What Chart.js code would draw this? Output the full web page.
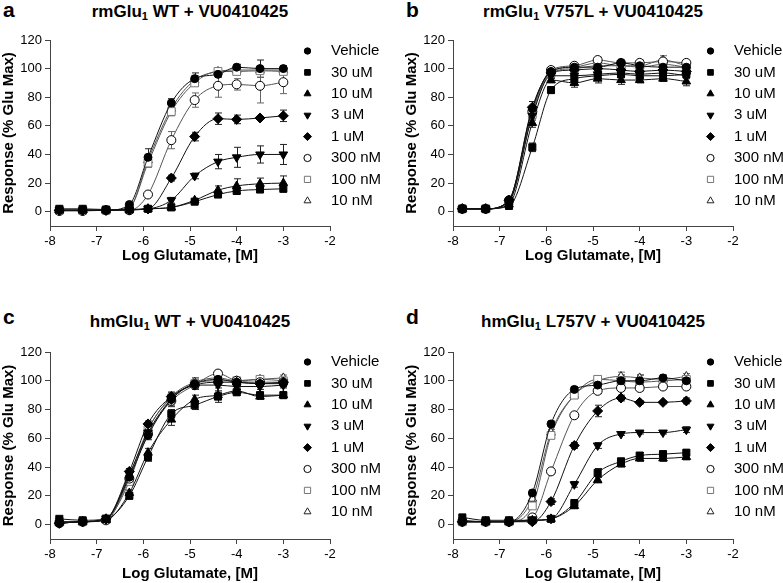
<!DOCTYPE html>
<html>
<head>
<meta charset="utf-8">
<script src="https://cdn.jsdelivr.net/npm/chart.js@4.4.0/dist/chart.umd.min.js"></script>
<style>
body { margin: 0; background: #fff; width: 783px; height: 583px; position: relative; overflow: hidden;
       font-family: "Liberation Sans", Arial, sans-serif; color: #000; }
.painel { position: absolute; width: 380px; height: 272px; }
.painel canvas { position: absolute; left: 0; top: 0; }
.letra { position: absolute; left: 3px; font-weight: bold; font-size: 21px; line-height: 21px; }
.titulo { position: absolute; left: 50px; width: 280px; text-align: center; font-weight: bold;
          font-size: 17px; line-height: 17px; white-space: nowrap; }
.titulo sub { font-size: 11px; vertical-align: -3px; line-height: 0; }
</style>
</head>
<body>

<div class="painel" style="left:0;top:0">
  <div class="letra" style="top:-1px">a</div>
  <div class="titulo" style="top:3px">rmGlu<sub>1</sub> WT + VU0410425</div>
  <canvas id="graficoA" width="380" height="272"></canvas>
</div>
<div class="painel" style="left:403px;top:0">
  <div class="letra" style="top:-1px">b</div>
  <div class="titulo" style="top:3px">rmGlu<sub>1</sub> V757L + VU0410425</div>
  <canvas id="graficoB" width="380" height="272"></canvas>
</div>
<div class="painel" style="left:0;top:311px">
  <div class="letra" style="top:-5px">c</div>
  <div class="titulo" style="top:2px">hmGlu<sub>1</sub> WT + VU0410425</div>
  <canvas id="graficoC" width="380" height="272"></canvas>
</div>
<div class="painel" style="left:403px;top:311px">
  <div class="letra" style="top:-5px">d</div>
  <div class="titulo" style="top:2px">hmGlu<sub>1</sub> L757V + VU0410425</div>
  <canvas id="graficoD" width="380" height="272"></canvas>
</div>

<script>
// --- DADOS ---
const logGlu = [-7.8, -7.3, -6.8, -6.3, -5.9, -5.4, -4.9, -4.4, -4.0, -3.5, -3.0];
const seriesLabels = ['Vehicle', '30 uM', '10 uM', '3 uM', '1 uM', '300 nM', '100 nM', '10 nM'];
const yTickValues = [0, 20, 40, 60, 80, 100, 120];
const xMin = -8, xMax = -2, yMin = -10, yMax = 120;
const xTitle = 'Log Glutamate, [M]';
const yTitle = 'Response (% Glu Max)';

// painel a: rmGlu1 WT
const aVehicle = [1, 1, 1, 5, 38, 76, 93, 96, 101, 100, 100];
const a30uM    = [2, 2, 1.5, 1.5, 2, 3, 7, 12, 14.5, 15.5, 16];
const a10uM    = [1, 1, 1, 1, 2, 3, 8, 15, 18, 19.5, 20];
const a3uM     = [1, 1, 1, 1.5, 2, 8, 25, 35, 38, 40, 40];
const a1uM     = [1, 1, 1, 1.5, 2, 23.5, 52.5, 65, 64.5, 65.5, 67];
const a300nM   = [0.5, 0.5, 1, 1, 12, 50, 78, 88, 89, 88, 90.5];
const a100nM   = [1, 1, 1, 3, 34, 70, 90, 98, 98, 98.5, 98];
const a10nM    = [1, 1, 1, 3, 36, 72, 92, 98, 99, 99, 99];
const aVehicleErr = [0, 0, 0, 0, 6, 3, 4, 2, 2, 6, 2];
const a30uMErr    = [0, 0, 0, 0, 0, 0, 1, 2, 2, 2, 2];
const a10uMErr    = [0, 0, 0, 0, 0, 0, 1, 3, 5, 4, 5];
const a3uMErr     = [0, 0, 0, 0, 0, 2, 2, 5, 7, 6, 7];
const a1uMErr     = [0, 0, 0, 0, 0, 2, 3, 4, 3, 1, 4];
const a300nMErr   = [0, 0, 0, 0, 1, 6, 5, 8, 4, 12, 8];
const a100nMErr   = [0, 0, 0, 0, 3, 3, 2, 1, 2, 2, 2];
const a10nMErr    = [0, 0, 0, 0, 2, 2, 3, 1, 1, 1, 1];

// painel b: rmGlu1 V757L
const bVehicle = [2, 2, 8, 72, 98, 101, 101, 104, 102, 101, 101];
const b30uM    = [2, 2, 4, 45, 85, 93, 95, 96, 95, 95, 96];
const b10uM    = [2, 2, 5, 62, 92, 90, 93, 92, 92, 93, 91];
const b3uM     = [2, 2, 7, 67, 95, 95, 96, 97, 96, 97, 95];
const b1uM     = [2, 2, 8, 73, 97, 99, 100, 99, 98, 99, 98];
const b300nM   = [2, 2, 8, 70, 99, 102, 106, 104, 104, 105, 104];
const b100nM   = [2, 2, 7, 68, 97, 100, 102, 102, 101, 103, 101];
const b10nM    = [2, 2, 8, 70, 98, 101, 104, 102, 102, 106, 102];
const bVehicleErr = [1, 1, 1, 5, 2, 2, 2, 2, 2, 2, 2];
const b30uMErr    = [1, 1, 1, 3, 2, 2, 2, 2, 2, 2, 2];
const b10uMErr    = [1, 1, 1, 3, 2, 3, 3, 3, 2, 2, 3];
const b3uMErr     = [1, 1, 1, 3, 2, 2, 2, 2, 2, 2, 2];
const b1uMErr     = [1, 1, 1, 4, 2, 2, 2, 2, 2, 2, 2];
const b300nMErr   = [1, 1, 1, 3, 2, 2, 2, 2, 2, 2, 2];
const b100nMErr   = [1, 1, 1, 3, 2, 2, 2, 2, 2, 2, 2];
const b10nMErr    = [1, 1, 1, 3, 2, 2, 2, 2, 2, 3, 2];

// painel c: hmGlu1 WT
const cVehicle = [1, 2, 4, 33, 62, 87, 98, 101, 99, 98, 98];
const c30uM    = [4, 3, 4, 20, 47, 77, 83, 89, 92, 90, 90];
const c10uM    = [2, 2, 3, 22, 50, 73, 87, 90, 93, 89, 90];
const c3uM     = [1, 2, 4, 35, 64, 87, 97, 97, 96, 96, 97];
const c1uM     = [1, 2, 4, 37, 70, 89, 97, 99, 99, 98, 99];
const c300nM   = [1, 2, 3, 32, 63, 86, 97, 105, 100, 99, 99];
const c100nM   = [2, 2, 4, 30, 66, 88, 98, 100, 100, 101, 100];
const c10nM    = [1, 2, 4, 34, 66, 89, 99, 102, 100, 101, 102];
const cVehicleErr = [1, 1, 1, 2, 3, 5, 4, 2, 2, 2, 2];
const c30uMErr    = [1, 1, 1, 2, 3, 3, 3, 4, 2, 2, 2];
const c10uMErr    = [1, 1, 1, 2, 3, 4, 3, 2, 2, 2, 2];
const c3uMErr     = [1, 1, 1, 2, 2, 3, 2, 2, 2, 2, 2];
const c1uMErr     = [1, 1, 1, 2, 2, 3, 2, 2, 2, 2, 2];
const c300nMErr   = [1, 1, 1, 2, 2, 3, 2, 2, 2, 2, 2];
const c100nMErr   = [1, 1, 1, 2, 2, 3, 2, 2, 2, 2, 2];
const c10nMErr    = [1, 1, 1, 2, 2, 3, 2, 2, 2, 2, 2];

// painel d: hmGlu1 L757V
const dVehicle = [2, 2, 2, 22, 70, 94, 97, 100, 100, 102, 100];
const d30uM    = [5, 3, 3, 3, 4, 15, 36, 44, 48, 49, 50];
const d10uM    = [3, 2, 2, 3, 4, 13, 31, 42, 46, 46, 47];
const d3uM     = [2, 2, 2, 3, 4, 28, 55, 63, 64, 64, 66];
const d1uM     = [2, 2, 2, 2, 16, 55, 79, 88, 85, 85, 86];
const d300nM   = [2, 2, 2, 5, 37, 76, 93, 95, 95, 96, 96];
const d100nM   = [2, 2, 2, 13, 62, 90, 101, 100, 99, 100, 101];
const d10nM    = [2, 2, 2, 18, 64, 90, 100, 103, 102, 101, 103];
const dVehicleErr = [1, 1, 1, 2, 2, 2, 3, 4, 4, 2, 2];
const d30uMErr    = [1, 1, 1, 1, 1, 2, 3, 2, 2, 2, 2];
const d10uMErr    = [1, 1, 1, 1, 1, 2, 2, 2, 2, 2, 2];
const d3uMErr     = [1, 1, 1, 1, 1, 2, 2, 1, 1, 1, 2];
const d1uMErr     = [1, 1, 1, 1, 2, 2, 4, 2, 1, 1, 2];
const d300nMErr   = [1, 1, 1, 1, 2, 2, 2, 2, 2, 2, 2];
const d100nMErr   = [1, 1, 1, 1, 2, 2, 2, 2, 2, 2, 2];
const d10nMErr    = [1, 1, 1, 2, 2, 2, 2, 3, 2, 2, 2];

// --- ESTILO DOS MARCADORES ---
const estilos = [
  { style: 'circle',   rotation: 0,   radius: 4,   aberto: false },
  { style: 'rect',     rotation: 0,   radius: 5,   aberto: false },
  { style: 'triangle', rotation: 0,   radius: 5,   aberto: false },
  { style: 'triangle', rotation: 180, radius: 5,   aberto: false },
  { style: 'rectRot',  rotation: 0,   radius: 5,   aberto: false },
  { style: 'circle',   rotation: 0,   radius: 4.5, aberto: true, borda: '#000' },
  { style: 'rect',     rotation: 0,   radius: 5.5, aberto: true, borda: '#777' },
  { style: 'triangle', rotation: 0,   radius: 5,   aberto: true, borda: '#222' }
];

Chart.defaults.font.family = '"Liberation Sans", Arial, sans-serif';
Chart.defaults.color = '#000';

// barras de erro (desenhadas antes das curvas e marcadores)
const barrasErro = {
  id: 'barrasErro',
  beforeDatasetsDraw(chart) {
    const { ctx, scales: { x, y } } = chart;
    ctx.save();
    ctx.lineWidth = 1;
    chart.data.datasets.forEach(ds => {
      ctx.strokeStyle = ds.corErro;
      ds.data.forEach((p, j) => {
        const e = ds.erros[j];
        if (!e) return;
        const px = Math.round(x.getPixelForValue(p.x)) + 0.5;
        const y1 = y.getPixelForValue(p.y + e);
        const y2 = y.getPixelForValue(p.y - e);
        ctx.beginPath();
        ctx.moveTo(px, y1); ctx.lineTo(px, y2);
        ctx.moveTo(px - 3.5, y1); ctx.lineTo(px + 3.5, y1);
        ctx.moveTo(px - 3.5, y2); ctx.lineTo(px + 3.5, y2);
        ctx.stroke();
      });
    });
    ctx.restore();
  }
};

// legenda ao lado das curvas
const legenda = {
  id: 'legenda',
  afterDraw(chart) {
    const ctx = chart.ctx;
    ctx.save();
    ctx.font = '15px "Liberation Sans", Arial, sans-serif';
    ctx.textBaseline = 'middle';
    chart.data.datasets.forEach((ds, i) => {
      const est = estilos[i];
      const y = 51 + i * 21.4;
      ctx.lineWidth = 1;
      ctx.fillStyle = est.aberto ? '#fff' : '#000';
      ctx.strokeStyle = est.aberto ? est.borda : '#000';
      Chart.helpers.drawPoint(ctx, { pointStyle: est.style, rotation: est.rotation, radius: est.radius * 0.8, borderWidth: 1 }, 307.5, y);
      ctx.fillStyle = '#000';
      ctx.fillText(ds.label, 331, y);
    });
    ctx.restore();
  }
};

function criarPainel(canvasId, series, erros, baixo) {
  const datasets = series.map((valores, i) => {
    const est = estilos[i];
    return {
      label: seriesLabels[i],
      data: logGlu.map((x, j) => ({ x: x, y: valores[j] })),
      erros: erros[i],
      corErro: est.aberto ? '#666' : '#222',
      showLine: true,
      cubicInterpolationMode: 'monotone',
      borderColor: est.aberto ? '#555' : '#111',
      borderWidth: 1,
      pointStyle: est.style,
      rotation: est.rotation,
      pointRadius: est.radius,
      pointBackgroundColor: est.aberto ? '#fff' : '#000',
      pointBorderColor: est.aberto ? est.borda : '#000',
      pointBorderWidth: 1
    };
  });

  new Chart(document.getElementById(canvasId), {
    type: 'scatter',
    data: { datasets },
    options: {
      responsive: false,
      animation: false,
      events: [],
      layout: { autoPadding: false, padding: { left: 0, right: 50, top: baixo ? 41 : 40, bottom: baixo ? 0 : 7 } },
      plugins: { legend: { display: false }, tooltip: { enabled: false } },
      scales: {
        x: {
          type: 'linear', min: xMin, max: xMax,
          ticks: { stepSize: 1, font: { size: 13 }, padding: 3, color: '#000' },
          grid: { drawOnChartArea: false, tickLength: 5, color: '#444' },
          border: { color: '#444' },
          title: { display: true, text: xTitle, font: { size: 15, weight: 'bold' }, color: '#000', padding: { top: 0, bottom: 0 } },
          afterFit(s) { s.height = baixo ? 44 : 39; }
        },
        y: {
          min: yMin, max: yMax,
          afterBuildTicks(s) { s.ticks = yTickValues.map(v => ({ value: v })); },
          ticks: { font: { size: 13 }, padding: 3, color: '#000' },
          grid: { drawOnChartArea: false, tickLength: 5, color: '#444' },
          border: { color: '#444' },
          title: { display: true, text: yTitle, font: { size: 15, weight: 'bold' }, color: '#000', padding: { top: 0, bottom: 0 } },
          afterFit(s) { s.width = 50; }
        }
      }
    },
    plugins: [barrasErro, legenda]
  });
}

criarPainel('graficoA',
  [aVehicle, a30uM, a10uM, a3uM, a1uM, a300nM, a100nM, a10nM],
  [aVehicleErr, a30uMErr, a10uMErr, a3uMErr, a1uMErr, a300nMErr, a100nMErr, a10nMErr], false);
criarPainel('graficoB',
  [bVehicle, b30uM, b10uM, b3uM, b1uM, b300nM, b100nM, b10nM],
  [bVehicleErr, b30uMErr, b10uMErr, b3uMErr, b1uMErr, b300nMErr, b100nMErr, b10nMErr], false);
criarPainel('graficoC',
  [cVehicle, c30uM, c10uM, c3uM, c1uM, c300nM, c100nM, c10nM],
  [cVehicleErr, c30uMErr, c10uMErr, c3uMErr, c1uMErr, c300nMErr, c100nMErr, c10nMErr], true);
criarPainel('graficoD',
  [dVehicle, d30uM, d10uM, d3uM, d1uM, d300nM, d100nM, d10nM],
  [dVehicleErr, d30uMErr, d10uMErr, d3uMErr, d1uMErr, d300nMErr, d100nMErr, d10nMErr], true);
</script>
</body>
</html>
